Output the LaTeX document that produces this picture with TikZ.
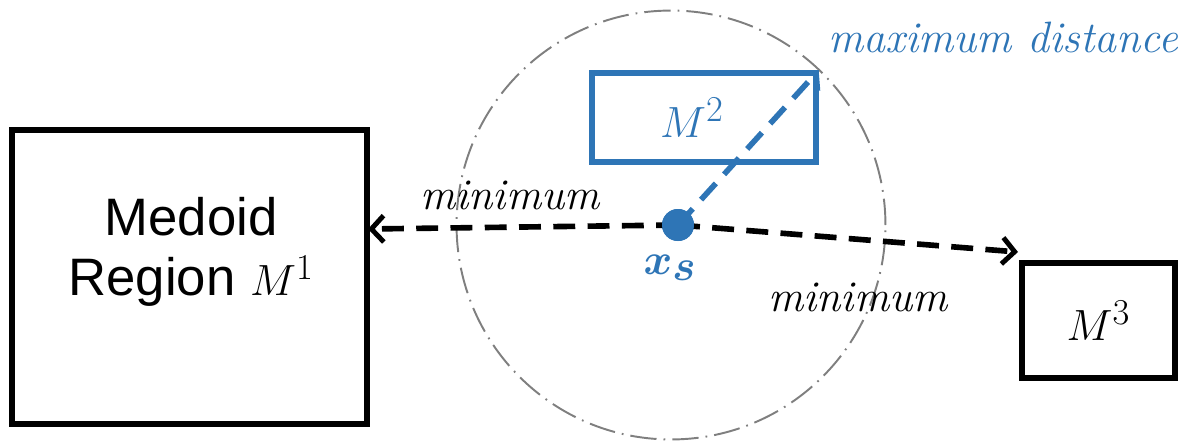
\documentclass[tikz,border=0pt]{standalone}
\usepackage{fontspec}
\setsansfont{Liberation Sans}
\usepackage{bm}
\usetikzlibrary{arrows.meta, positioning}
\definecolor{cblue}{HTML}{2E75B6}
\definecolor{cgrey}{HTML}{7F7F7F}
\tikzset{
  every picture/.style={x=0.02cm, y=-0.02cm},
  region/.style={draw=#1, line width=3pt, inner sep=0pt, align=center},
  region/.default=black,
  link/.style={-{Straight Barb[length=7pt, width=15pt, line width=2.8pt]}, draw=#1, line width=3.2pt,
               dash pattern=on 12.5pt off 7pt},
  link/.default=black,
  lbl/.style={font=\fontsize{25}{30}\selectfont\itshape},
}
\begin{document}
\begin{tikzpicture}
  \useasboundingbox (0,0) rectangle (1186,443);
  \coordinate (c) at (671,225);
  \draw[cgrey, line width=1.1pt, dash pattern=on 15pt off 4pt on 1pt off 4pt] (c) circle[radius=4.29cm];
  \node[region, minimum width=7.1cm, minimum height=5.88cm] (m1) at (189.5,277) {};
  \node[font=\sffamily\fontsize{30}{34}\selectfont, align=center] (m1t) at (191,252) {Medoid\\Region $M^1$};
  \node[region=cblue, minimum width=4.48cm, minimum height=1.78cm] (m2) at (704,117.5) {};
  \node[text=cblue, font=\fontsize{30}{34}\selectfont] (m2t) at (692,117.5) {$M^2$};
  \node[region, minimum width=3.06cm, minimum height=2.3cm,
        font=\fontsize{30}{34}\selectfont] (m3) at (1098.5,320.5) {$M^3$};
  \node[circle, fill=cblue, minimum size=0.64cm, inner sep=0pt] (xs) at (678,225) {};
  \coordinate (e1) at (368,229);
  \coordinate (e3) at (1018,252);
  \draw[link] (xs.center) -- (e1);
  \draw[link] (xs.center) -- (e3);
  \draw[link=cblue] (xs.center) -- (m2.north east);
  \node[circle, fill=cblue, minimum size=0.64cm, inner sep=0pt] at (xs) {};
  \node[text=cblue, font=\fontsize{34}{34}\selectfont] (xl) at (670,268) {$\bm{x_s}$};
  \node[lbl] (min1) at (510,195) {minimum};
  \node[lbl] (min3) at (858,297) {minimum};
  \node[lbl, text=cblue, anchor=east] (maxd) at (1184,37) {maximum distance};
\end{tikzpicture}
\end{document}
